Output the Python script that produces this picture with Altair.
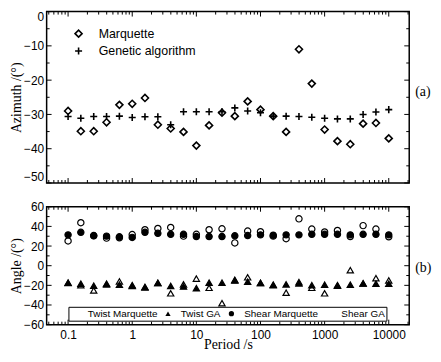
import altair as alt
import pandas as pd

# ---------------- data ----------------
period = [0.1, 0.158, 0.251, 0.398, 0.631, 1, 1.58, 2.51, 3.98, 6.31, 10, 15.8, 25.1,
          39.8, 63.1, 100, 158, 251, 398, 631, 1000, 1585, 2512, 3981, 6310, 10000]

az_marquette = [-29.0, -34.9, -34.9, -32.3, -27.2, -26.9, -25.2, -33.0, -34.1, -35.1, -39.1,
                -33.2, -29.5, -30.5, -26.2, -28.6, -30.5, -35.1, -11.0, -21.0, -34.4, -37.8,
                -38.7, -32.7, -32.5, -37.0]
az_ga = [-30.6, -31.1, -30.6, -30.6, -30.5, -30.9, -30.7, -30.7, -33.0, -29.2, -29.2, -29.2,
         -29.2, -28.1, -29.0, -29.5, -30.5, -30.5, -30.6, -30.8, -31.1, -31.3, -31.3, -30.0,
         -29.3, -28.6]

twist_marquette = [-17.6, -19.9, -25.2, -19.0, -16.0, -20.5, -22.2, -17.6, -28.1, -19.0, -13.1,
                   -22.5, -38.2, -14.4, -11.8, -17.6, -19.9, -27.5, -16.7, -22.5, -28.1, -19.9,
                   -4.6, -18.0, -12.7, -15.0]
twist_ga = [-17.3, -18.3, -20.3, -18.3, -19.3, -19.9, -21.6, -17.6, -20.6, -21.2, -22.9, -17.3,
            -17.3, -15.0, -16.3, -17.6, -19.3, -19.0, -18.0, -19.9, -19.3, -20.3, -19.3, -18.0,
            -18.3, -18.3]
shear_marquette = [31.4, 34.0, 30.7, 30.1, 29.4, 28.8, 34.0, 33.0, 32.0, 32.0, 29.7, 29.7, 29.7,
                   30.4, 30.7, 31.4, 31.0, 31.4, 31.4, 32.0, 32.0, 32.0, 31.4, 32.0, 32.0, 31.4]
shear_ga = [25.2, 43.8, 30.4, 28.1, 28.4, 31.7, 36.6, 37.9, 38.9, 30.1, 32.0, 36.6, 37.6, 23.2,
            35.3, 34.6, 30.1, 27.5, 47.7, 37.3, 34.3, 35.9, 29.7, 40.8, 37.3, 29.4]

top_series = ["Marquette", "Genetic algorithm"]
bottom_series = ["Twist Marquette", "Twist GA", "Shear Marquette", "Shear GA"]

x_labels = [0.1, 1, 10, 100, 1000, 10000]
x_minor = [m * 10 ** e for e in range(-2, 5) for m in range(2, 10)]
x_minor = [v for v in x_minor if 0.0463 <= v <= 20850]
ya_major = [0, -10, -20, -30, -40, -50]
ya_minor = [-5, -15, -25, -35, -45]
yb_major = [60, 40, 20, 0, -20, -40, -60]
yb_minor = [50, 30, 10, -10, -30, -50]

# ---------------- layout constants ----------------
W = 366
HA = 173
HB = 119
MAJ = 5
MIN = 3
LABEL_FONT = "Liberation Sans"
TITLE_FONT = "Liberation Serif"
PLUS = "M-1,0H1M0,-1V1"

xscale = alt.Scale(type="log", domain=[0.0463, 20850], nice=False)

df_top = pd.DataFrame({
    "period": period * 2,
    "azimuth": az_marquette + az_ga,
    "method": [top_series[0]] * len(period) + [top_series[1]] * len(period),
})
df_bot = pd.DataFrame({
    "period": period * 4,
    "angle": twist_marquette + twist_ga + shear_marquette + shear_ga,
    "series": sum([[s] * len(period) for s in bottom_series], []),
})


def x_tick_layers(height, xaxis):
    layers = []
    for vals, ln in ((x_labels, MAJ), (x_minor, MIN)):
        d = pd.DataFrame({"v": vals})
        base = alt.Chart(d).mark_rule(color="black", strokeWidth=1)
        layers.append(base.encode(x=alt.X("v:Q", scale=xscale, axis=xaxis),
                                  y=alt.value(0), y2=alt.value(ln)))
        layers.append(base.encode(x=alt.X("v:Q", scale=xscale, axis=xaxis),
                                  y=alt.value(height), y2=alt.value(height - ln)))
    return layers


def y_tick_layers(major, minor, yscale, yaxis):
    layers = []
    for vals, ln in ((major, MAJ), (minor, MIN)):
        d = pd.DataFrame({"w": vals})
        base = alt.Chart(d).mark_rule(color="black", strokeWidth=1)
        layers.append(base.encode(y=alt.Y("w:Q", scale=yscale, axis=yaxis),
                                  x=alt.value(0), x2=alt.value(ln)))
        layers.append(base.encode(y=alt.Y("w:Q", scale=yscale, axis=yaxis),
                                  x=alt.value(W), x2=alt.value(W - ln)))
    return layers


def y_axis(title, values, flush):
    return alt.Axis(title=title, values=values, ticks=False, tickSize=0, domain=False,
                    grid=False, labelFont=LABEL_FONT, labelFontSize=12, labelColor="black",
                    labelPadding=3, labelFlush=flush, titleFont=TITLE_FONT, titleFontSize=14,
                    titleFontWeight="normal", titleColor="black", titlePadding=0)


# ---------------- top panel ----------------
ya_scale = alt.Scale(domain=[-50, 0], nice=False, zero=False)
ya_axis = y_axis("Azimuth /(°)", ya_major, True)

top_points = alt.Chart(df_top).mark_point(filled=False, color="black", stroke="black",
                                          strokeWidth=1.6, size=50, opacity=1).encode(
    x=alt.X("period:Q", scale=xscale, axis=None),
    y=alt.Y("azimuth:Q", scale=ya_scale, axis=ya_axis),
    shape=alt.Shape("method:N",
                    scale=alt.Scale(domain=top_series, range=["diamond", PLUS]),
                    legend=alt.Legend(orient="none", legendX=26, legendY=16, title=None,
                                      labelFont=LABEL_FONT, labelFontSize=12.5,
                                      labelColor="black", symbolSize=50,
                                      symbolStrokeColor="black", symbolStrokeWidth=1.6,
                                      symbolFillColor="transparent", labelOffset=14,
                                      rowPadding=3.5, padding=0)),
)
top_label = alt.Chart(pd.DataFrame({"t": ["(a)"]})).mark_text(
    font=TITLE_FONT, fontSize=14, align="left", baseline="middle", color="black"
).encode(text="t:N", x=alt.value(W + 6), y=alt.value(81))

top = alt.layer(
    top_points,
    *x_tick_layers(HA, None),
    *y_tick_layers(ya_major, ya_minor, ya_scale, ya_axis),
    top_label,
).properties(width=W, height=HA)

# ---------------- bottom panel ----------------
yb_scale = alt.Scale(domain=[-60, 60], nice=False, zero=False)
yb_axis = y_axis("Angle /(°)", yb_major, False)
xb_axis = alt.Axis(title="Period /s", values=x_labels, format="~g", ticks=False, tickSize=0,
                   domain=False, grid=False, labelFont=LABEL_FONT, labelFontSize=12,
                   labelColor="black", labelPadding=5, labelFlush=False,
                   titleFont=TITLE_FONT, titleFontSize=14, titleFontWeight="normal",
                   titleColor="black", titlePadding=-3)

bot_legend = alt.Legend(orient="none", legendX=22, legendY=101, title=None,
                        direction="horizontal", columns=4, gridAlign="each",
                        labelFont=LABEL_FONT, labelFontSize=10, labelColor="black",
                        symbolSize=28, symbolStrokeColor="black", symbolStrokeWidth=1.2,
                        strokeColor="black", fillColor="white", padding=1.5,
                        columnPadding=4, labelOffset=8)

bot_points = alt.Chart(df_bot).mark_point(color="black", stroke="black", strokeWidth=1.2,
                                          size=40, opacity=1).encode(
    x=alt.X("period:Q", scale=xscale, axis=xb_axis),
    y=alt.Y("angle:Q", scale=yb_scale, axis=yb_axis),
    shape=alt.Shape("series:N",
                    scale=alt.Scale(domain=bottom_series,
                                    range=["triangle-up", "triangle-up", "circle", "circle"]),
                    legend=bot_legend),
    fill=alt.Fill("series:N",
                  scale=alt.Scale(domain=bottom_series,
                                  range=["transparent", "black", "black", "transparent"]),
                  legend=bot_legend),
)
bot_label = alt.Chart(pd.DataFrame({"t": ["(b)"]})).mark_text(
    font=TITLE_FONT, fontSize=14, align="left", baseline="middle", color="black"
).encode(text="t:N", x=alt.value(W + 6), y=alt.value(HB / 2 + 2))

bottom = alt.layer(
    bot_points,
    *x_tick_layers(HB, xb_axis),
    *y_tick_layers(yb_major, yb_minor, yb_scale, yb_axis),
    bot_label,
).properties(width=W, height=HB)

chart = alt.vconcat(top, bottom, spacing=15).resolve_scale(
    shape="independent", fill="independent"
).configure_view(stroke="black", strokeWidth=1.5).properties(padding=0)

chart.save("out.html", embed_options={"renderer": "svg", "actions": False})
